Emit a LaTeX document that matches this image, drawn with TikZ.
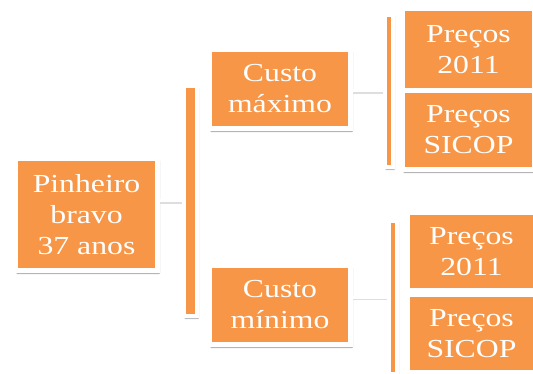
\documentclass[tikz,border=0pt]{standalone}
\usepackage{fontspec}
\newfontfamily\boxfont[FakeStretch=1.22]{Liberation Serif}
\usetikzlibrary{shadows.blur}
\definecolor{boxorange}{HTML}{F79646}
\tikzset{
  box/.style={draw=white, line width=5pt, fill=boxorange, inner sep=0pt,
    text=white, align=center,
    font=\boxfont\fontsize{26}{31}\selectfont,
    blur shadow={shadow xshift=1.5pt, shadow yshift=-2.5pt, shadow blur steps=6, shadow opacity=45}},
  barbox/.style={draw=white, line width=4pt, fill=boxorange, inner sep=0pt,
    blur shadow={shadow xshift=1pt, shadow yshift=-2pt, shadow blur steps=5, shadow opacity=40}},
  link/.style={draw=white, line width=3pt,
    preaction={draw, black!13, line width=3pt, transform canvas={yshift=-1.2pt}}}
}
\begin{document}
\begin{tikzpicture}[x=1pt,y=-1pt]
\useasboundingbox (0,0) rectangle (533,374);
% level boxes
\node[box, minimum width=142pt, minimum height=112pt] (root) at (86.5,214.5) {Pinheiro\\bravo\\37 anos};
\node[box, minimum width=141pt, minimum height=79pt] (max) at (280,89) {Custo\\máximo};
\node[box, minimum width=141pt, minimum height=79pt] (min) at (280,305) {Custo\\mínimo};
\node[box, minimum width=132pt, minimum height=82pt] (pa) at (468.5,49.5) {Preços\\2011};
\node[box, minimum width=132pt, minimum height=79pt] (pb) at (468.5,130) {Preços\\SICOP};
\node[box, minimum width=128pt, minimum height=78pt] (pc) at (471.5,251.5) {Preços\\2011};
\node[box, minimum width=128pt, minimum height=78pt] (pd) at (471.5,333.5) {Preços\\SICOP};
% brackets
\node[barbox, minimum width=13pt, minimum height=230pt] (bar1) at (190.5,201) {};
\node[barbox, minimum width=8pt, minimum height=152pt] (bar2) at (389,91) {};
\node[barbox, minimum width=8pt, minimum height=153pt] (bar3) at (393,297.5) {};
% connectors
\draw[link] (bar1.west -| root.east) -- (bar1.west);
\draw[link] (bar2.west -| max.east) -- (bar2.west);
\draw[link] (bar3.west -| min.east) -- (bar3.west);
\end{tikzpicture}
\end{document}
